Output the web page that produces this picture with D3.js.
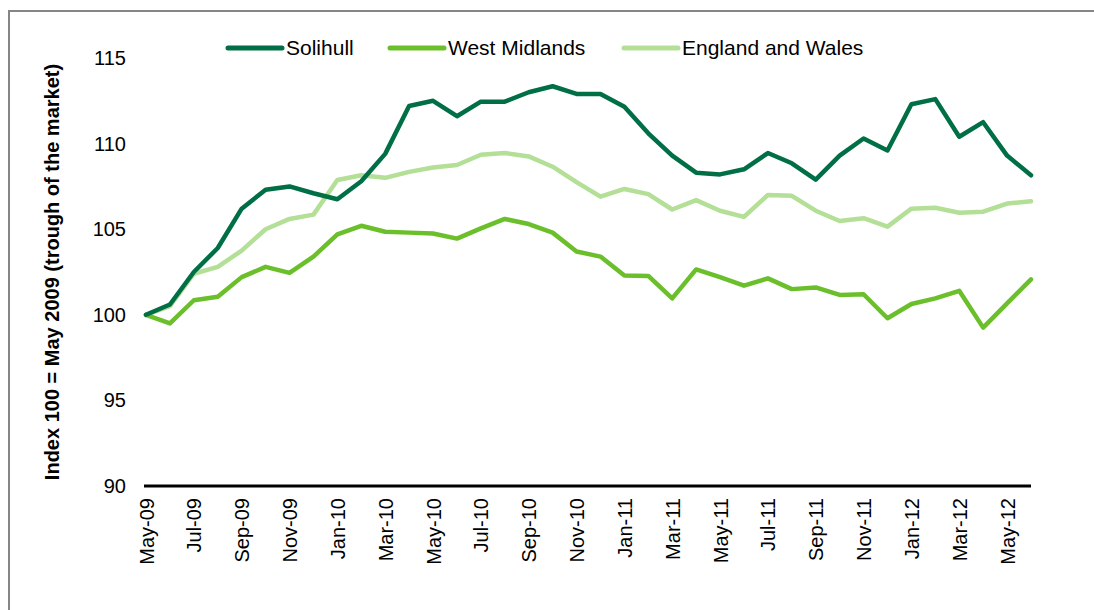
<!DOCTYPE html>
<html>
<head>
<meta charset="utf-8">
<script src="https://cdn.jsdelivr.net/npm/d3@7"></script>
<style>
  body { margin: 0; background: #fff; }
  svg { display: block; font-family: "Liberation Sans", Arial, sans-serif; }
</style>
</head>
<body>
<svg id="chart" width="1094" height="610"></svg>
<script>
var months = ["May-09","Jun-09","Jul-09","Aug-09","Sep-09","Oct-09","Nov-09","Dec-09",
  "Jan-10","Feb-10","Mar-10","Apr-10","May-10","Jun-10","Jul-10","Aug-10","Sep-10","Oct-10","Nov-10","Dec-10",
  "Jan-11","Feb-11","Mar-11","Apr-11","May-11","Jun-11","Jul-11","Aug-11","Sep-11","Oct-11","Nov-11","Dec-11",
  "Jan-12","Feb-12","Mar-12","Apr-12","May-12","Jun-12"];

var solihull = [100.0,100.6,102.5,103.9,106.2,107.3,107.5,107.1,106.75,107.8,109.4,112.2,112.5,111.6,
  112.45,112.45,113.0,113.35,112.9,112.9,112.15,110.6,109.3,108.3,108.2,108.5,109.45,108.85,107.9,109.3,
  110.3,109.6,112.3,112.6,110.4,111.25,109.3,108.15];

var westMidlands = [100.0,99.5,100.85,101.05,102.2,102.8,102.45,103.4,104.7,105.2,104.85,104.8,104.75,104.45,
  105.05,105.6,105.3,104.8,103.7,103.4,102.3,102.27,100.96,102.65,102.2,101.7,102.13,101.5,101.6,101.16,
  101.2,99.8,100.63,100.96,101.4,99.25,100.67,102.07];

var englandWales = [100.0,100.5,102.4,102.8,103.75,105.0,105.6,105.85,107.87,108.15,108.0,108.35,108.6,108.75,
  109.35,109.45,109.25,108.65,107.75,106.9,107.35,107.05,106.15,106.7,106.08,105.72,107.0,106.95,106.08,105.48,
  105.64,105.15,106.2,106.25,105.96,106.02,106.5,106.63];

var yTicks = [90, 95, 100, 105, 110, 115];

var series = [
  { name: "Solihull", values: solihull, color: "#006f46" },
  { name: "West Midlands", values: westMidlands, color: "#6abf2b" },
  { name: "England and Wales", values: englandWales, color: "#b3df96" }
];

var svg = d3.select("#chart");

// outer frame (only top and left edges show)
svg.append("line").attr("x1", 9).attr("x2", 1094).attr("y1", 11).attr("y2", 11)
  .attr("stroke", "#858585").attr("stroke-width", 2);
svg.append("line").attr("x1", 9).attr("x2", 9).attr("y1", 10).attr("y2", 610)
  .attr("stroke", "#858585").attr("stroke-width", 2);

var x = d3.scalePoint().domain(months).range([146, 1031]);
var y = d3.scaleLinear().domain([90, 115]).range([486, 58]);

// y axis labels
var yAxis = svg.append("g").attr("transform", "translate(126,0)")
  .call(d3.axisLeft(y).tickValues(yTicks).tickSize(0).tickPadding(0));
yAxis.select(".domain").remove();
yAxis.selectAll("text").attr("font-size", 20).attr("fill", "#000")
  .style("font-family", "Liberation Sans, Arial, sans-serif");

// x axis
var xAxis = svg.append("g").attr("transform", "translate(0,486)")
  .call(d3.axisBottom(x).tickValues(months.filter(function(d, i) { return i % 2 === 0; }))
    .tickSize(0).tickPadding(0));
xAxis.select(".domain").attr("d", "M144,0H1031").attr("stroke", "#000").attr("stroke-width", 3);
xAxis.selectAll("text")
  .attr("font-size", 20).attr("fill", "#000")
  .style("font-family", "Liberation Sans, Arial, sans-serif")
  .attr("text-anchor", "end")
  .attr("dy", "0.35em")
  .attr("transform", "translate(0,12) rotate(-90)");

// y axis title
svg.append("text")
  .attr("transform", "translate(52,272) rotate(-90)")
  .attr("text-anchor", "middle")
  .attr("dy", "0.35em")
  .attr("font-size", 20).attr("font-weight", "bold")
  .text("Index 100 = May 2009 (trough of the market)");

// lines
var line = d3.line()
  .x(function(d, i) { return x(months[i]); })
  .y(function(d) { return y(d); });

svg.selectAll("path.series").data(series.slice().reverse()).enter().append("path")
  .attr("class", "series")
  .attr("d", function(d) { return line(d.values); })
  .attr("fill", "none")
  .attr("stroke", function(d) { return d.color; })
  .attr("stroke-width", 4.5)
  .attr("stroke-linejoin", "round")
  .attr("stroke-linecap", "round");

// legend
var legendX = [228, 390, 624];
var legend = svg.selectAll("g.legend").data(series).enter().append("g")
  .attr("class", "legend")
  .attr("transform", function(d, i) { return "translate(" + legendX[i] + ",48)"; });
legend.append("line").attr("x1", 0).attr("x2", 54).attr("y1", 0).attr("y2", 0)
  .attr("stroke", function(d) { return d.color; })
  .attr("stroke-width", 5).attr("stroke-linecap", "round");
legend.append("text").attr("x", 58).attr("dy", "0.35em")
  .attr("font-size", 21).attr("fill", "#000")
  .text(function(d) { return d.name; });
</script>
</body>
</html>
